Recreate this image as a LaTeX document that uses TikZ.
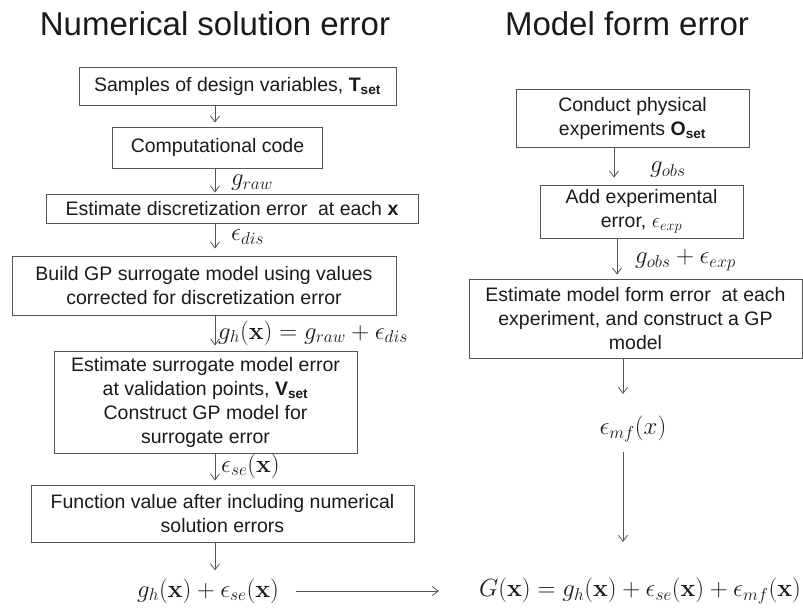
\documentclass[tikz,border=0pt]{standalone}
\usepackage[no-math]{fontspec}
\setmainfont{Liberation Sans}
\usetikzlibrary{arrows.meta}
\definecolor{boxc}{HTML}{555555}
\definecolor{arrc}{HTML}{555555}
\definecolor{txtc}{HTML}{1A1A1A}
\begin{document}
\begin{tikzpicture}[x=1pt,y=-1pt,
  box/.style={draw=boxc, line width=0.9pt, align=center, text=txtc,
    font=\fontsize{19.5}{24}\selectfont, inner sep=0pt},
  ttl/.style={font=\fontsize{33}{36}\selectfont, text=txtc, inner sep=0pt},
  lab/.style={font=\fontsize{26}{30}\selectfont, text=txtc, inner sep=0pt},
  arr/.style={draw=arrc, line width=0.8pt, -{Straight Barb[length=6pt,width=9pt]}}]
\useasboundingbox (0,0) rectangle (803,610);

% titles
\node[ttl] (t1) at (215,24) {Numerical solution error};
\node[ttl] (t2) at (627,24) {Model form error};

% left column
\node[box, minimum width=317pt, minimum height=38pt] (b1) at (237.5,86)
  {Samples of design variables, \textbf{T}\textsubscript{\textbf{set}}};
\node[box, minimum width=210pt, minimum height=41pt] (b2) at (217.5,147.5)
  {Computational code};
\node[box, minimum width=372pt, minimum height=29pt] (b3) at (232,208.5)
  {Estimate discretization error \ at each \textbf{x}};
\node[box, minimum width=384pt, minimum height=59pt] (b4) at (204,285.5)
  {Build GP surrogate model using values\\corrected for discretization error};
\node[box, minimum width=303pt, minimum height=102pt] (b5) at (205.5,402)
  {Estimate surrogate model error\\at validation points, \textbf{V}\textsubscript{\textbf{set}}\\Construct GP model for\\surrogate error};
\node[box, minimum width=383pt, minimum height=57pt] (b6) at (222.5,513.5)
  {Function value after including numerical\\solution errors};
\node[lab] (f1) at (208,591) {$g_h(\mathbf{x}) + \epsilon_{se}(\mathbf{x})$};

% right column
\node[box, minimum width=233pt, minimum height=58pt] (r1) at (632.5,118)
  {Conduct physical\\experiments \textbf{O}\textsubscript{\textbf{set}}};
\node[box, minimum width=203pt, minimum height=53pt] (r2) at (641.5,211.5)
  {Add experimental\\error, $\epsilon_{exp}$};
\node[box, minimum width=333pt, minimum height=79pt] (r3) at (635.5,318.5)
  {Estimate model form error \ at each\\experiment, and construct a GP\\model};
\node[lab] (emf) at (633,429) {$\epsilon_{mf}(x)$};
\node[lab] (G) at (640,591) {$G(\mathbf{x}) = g_h(\mathbf{x}) + \epsilon_{se}(\mathbf{x}) + \epsilon_{mf}(\mathbf{x})$};

% arrow x positions
\coordinate (xl) at (215,0);
\coordinate (xr1) at (614,0);
\coordinate (xr2) at (617,0);
\coordinate (xr3) at (623,0);

% left arrows
\draw[arr, shorten >=4pt] (b1.south -| xl) -- (b2.north -| xl);
\draw[arr, shorten >=1pt] (b2.south -| xl) -- (b3.north -| xl);
\draw[arr, shorten >=7pt] (b3.south -| xl) -- (b4.north -| xl);
\draw[arr, shorten >=5pt] (b4.south -| xl) -- (b5.north -| xl);
\draw[arr, shorten >=4pt] (b5.south -| xl) -- (b6.north -| xl);
\draw[arr, shorten >=8pt] (b6.south -| xl) -- (f1.north -| xl);

% left labels
\node[lab, anchor=west] (l1) at (231,183) {$g_{raw}$};
\node[lab, anchor=west] (l2) at (231,237) {$\epsilon_{dis}$};
\node[lab, anchor=west] (l3) at (218,333) {$g_h(\mathbf{x}) = g_{raw} + \epsilon_{dis}$};
\node[lab, anchor=west] (l4) at (221,466) {$\epsilon_{se}(\mathbf{x})$};

% right arrows
\draw[arr, shorten >=7pt] (r1.south -| xr1) -- (r2.north -| xr1);
\draw[arr, shorten >=4pt] (r2.south -| xr2) -- (r3.north -| xr2);
\draw[arr, shorten >=22pt] (r3.south -| xr3) -- (emf.north -| xr3);
\draw[arr, shorten <=10pt, shorten >=36pt] (emf.south -| xr3) -- (G.north -| xr3);

% right labels
\node[lab, anchor=west] (l5) at (650,170) {$g_{obs}$};
\node[lab, anchor=west] (l6) at (635,260) {$g_{obs} + \epsilon_{exp}$};

% horizontal arrow
\draw[arr, shorten <=17pt, shorten >=40pt] (f1.east) -- (G.west);
\end{tikzpicture}
\end{document}
